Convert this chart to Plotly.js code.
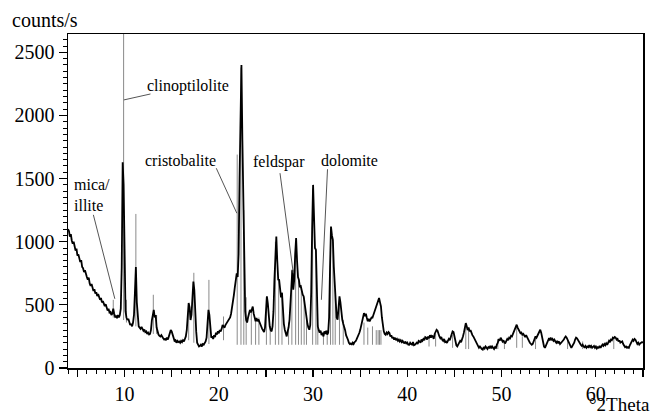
<!DOCTYPE html>
<html>
<head>
<meta charset="utf-8">
<script src="https://cdn.plot.ly/plotly-3.0.1.min.js"></script>
<style>html,body{margin:0;padding:0;background:#fff;}#chart{width:652px;height:416px;}</style>
</head>
<body>
<div id="chart"></div>
<script>
// Measured pattern: 2Theta scan from 4.0 to 65.0 deg, 0.1 deg steps (counts/s)
const scanStart = 4.0;
const scanStep = 0.1;
const counts = [
1100,1085,1040,1060,1010,985,1000,950,930,945,
890,900,860,840,855,800,790,760,775,730,
720,700,715,670,650,665,630,610,625,590,
600,570,585,555,540,555,520,530,500,490,
505,470,455,470,440,445,420,430,470,430,
405,410,395,420,400,420,470,800,1630,1450,
700,450,400,380,390,360,340,350,330,360,
420,600,800,520,370,330,320,310,325,300,
295,305,285,290,270,280,265,270,300,380,
440,460,400,420,320,280,265,255,250,260,
240,235,225,230,220,240,225,250,275,300,
290,260,230,215,220,200,215,205,210,200,
215,205,220,210,230,250,300,420,515,480,
380,420,560,685,620,420,290,200,180,170,
175,185,170,190,185,200,210,240,330,460,
420,280,240,250,230,260,245,280,265,290,
275,300,290,310,340,330,320,340,350,360,
375,385,400,430,470,520,580,640,700,750,
720,900,1500,2100,2400,1800,1330,800,450,380,
360,400,430,460,440,470,487,430,390,370,
395,370,385,360,340,329,310,300,285,320,
450,567,510,400,330,300,290,330,450,700,
950,1041,850,700,698,620,560,595,450,350,
303,270,250,290,320,382,550,700,778,620,
700,900,1030,850,720,698,640,646,600,580,
567,500,450,408,350,320,303,340,600,1100,
1450,1200,950,936,600,329,300,280,295,260,
280,250,290,270,295,265,280,400,800,1120,
1050,1015,800,620,450,400,382,470,567,520,
430,382,350,329,300,260,230,224,200,190,
195,184,200,190,205,210,225,240,255,277,
300,340,380,420,435,410,430,398,370,390,
369,385,400,398,420,440,461,480,510,540,
554,520,487,400,329,290,270,263,280,270,
285,277,250,260,235,245,224,240,220,230,
215,225,210,220,205,215,200,198,210,190,
200,185,184,200,190,185,205,180,184,195,
200,190,215,210,200,225,215,230,220,245,
240,225,250,235,260,240,255,250,230,270,
290,303,295,260,250,235,245,224,215,230,
205,210,198,215,230,220,250,270,290,285,
240,210,180,171,190,200,215,205,224,250,
280,320,356,330,300,320,290,300,270,260,
250,235,210,195,184,175,160,170,155,150,
145,165,155,170,160,150,165,160,175,155,
170,160,150,165,160,185,200,230,215,240,
225,210,220,200,198,215,230,220,240,235,
255,250,270,290,310,330,343,320,300,290,
275,280,263,270,255,245,260,240,230,215,
200,195,184,190,210,230,250,240,260,280,
300,303,280,240,200,170,160,175,190,210,
230,224,240,220,230,215,225,210,200,215,
195,210,190,198,205,215,225,240,250,240,
220,210,190,175,160,170,185,200,225,240,
235,220,205,190,184,175,185,170,165,175,
160,170,165,180,165,175,160,168,175,160,
170,155,165,160,175,160,170,185,175,190,
180,195,184,200,215,205,225,220,240,235,
245,240,225,230,210,220,200,205,210,190,
175,165,170,160,165,160,180,195,210,225,
215,230,224,205,190,200,185,195,198,205,
200
];

// Reference peak sticks (gray)
const stickPos  = [8.8,9.9,10.2,11.2,13.05,13.4,16.8,17.35,18.95,20.5,21.95,22.35,22.65,22.9,23.45,23.9,24.25,25.05,25.45,26.0,26.35,26.7,27.4,27.75,28.15,28.45,28.75,29.05,29.3,29.95,30.3,30.5,31.1,31.5,31.85,32.1,32.35,32.8,33.2,35.4,35.8,36.3,36.7,36.9,37.05,37.2,42.3,43.0,44.8,46.2,46.5,49.6,50.3,51.6,52.2,53.6,57.0,58.6,61.9];
const stickTop  = [540,2800,540,1220,580,420,480,754,698,408,1690,2380,1250,560,461,380,400,560,330,1000,700,600,360,770,1000,700,640,560,420,1420,930,340,280,300,1100,1000,620,560,380,360,320,330,300,300,300,300,250,270,260,330,300,230,210,320,250,230,220,210,230];
const stickBase = [400,380,360,330,270,270,220,200,190,220,184,184,184,184,184,184,184,184,184,184,184,184,184,184,184,184,184,184,184,184,184,184,184,184,184,184,184,184,184,184,184,184,184,184,184,184,170,170,160,150,150,150,150,160,160,150,150,150,150];

// Phase labels and their leader lines (data coords)
const labelText = ["clinoptilolite","cristobalite","feldspar","dolomite","mica/<br>illite"];
const labelX = [16.71,15.97,26.38,33.89,6.5];
const labelY = [2233,1640,1632,1644,1372];
const leaderX0 = [9.93,19.73,26.49,31.53,6.69];
const leaderY0 = [2123,1582,1543,1574,1213];
const leaderX1 = [12.75,21.91,27.9,30.88,8.97];
const leaderY1 = [2170,1226,752,540,548];

// Axis ticks
const xTickVals = [5,10,15,20,25,30,35,40,45,50,55,60,65];
const xTickText = ["","10","","20","","30","","40","","50","","60",""];
const yTickVals = [0,500,1000,1500,2000,2500];
const yTickText = ["0","500","1000","1500","2000","2500"];

const twoTheta = counts.map((_, i) => +(scanStart + i * scanStep).toFixed(2));

const sx = [], sy = [];
stickPos.forEach((p, i) => { sx.push(p, p, null); sy.push(stickBase[i], stickTop[i], null); });

const serif = "Times New Roman, Liberation Serif, DejaVu Serif, serif";

const traces = [
  {x: sx, y: sy, type: "scatter", mode: "lines", line: {color: "#8a8a8a", width: 1}, hoverinfo: "skip"},
  {x: twoTheta, y: counts, type: "scatter", mode: "lines", line: {color: "#000", width: 1.8}}
];

const shapes = labelText.map((t, i) => ({
  type: "line", xref: "x", yref: "y",
  x0: leaderX0[i], y0: leaderY0[i], x1: leaderX1[i], y1: leaderY1[i],
  line: {color: "#555", width: 1}
}));

const annotations = labelText.map((t, i) => ({
  x: labelX[i], y: labelY[i], xref: "x", yref: "y", text: t, showarrow: false,
  xanchor: "center", yanchor: "middle", align: "left",
  font: {family: serif, size: 16, color: "#000"}
}));
annotations.push({
  xref: "paper", yref: "paper", x: (10 - 68) / 575, y: (368 - 20) / 334,
  xanchor: "left", yanchor: "middle", text: "counts/s", showarrow: false,
  font: {family: serif, size: 20, color: "#000"}
});
annotations.push({
  xref: "paper", yref: "paper", x: (652 - 68) / 575, y: (368 - 417) / 334,
  xanchor: "right", yanchor: "bottom", text: "°2Theta", showarrow: false,
  font: {family: serif, size: 19, color: "#000"}
});

const layout = {
  width: 652, height: 416,
  margin: {l: 68, r: 9, t: 34, b: 48},
  paper_bgcolor: "#fff", plot_bgcolor: "#fff",
  showlegend: false,
  font: {family: serif, size: 20, color: "#000"},
  xaxis: {
    range: [4, 65], tickmode: "array", tickvals: xTickVals, ticktext: xTickText,
    ticks: "outside", ticklen: 7, tickwidth: 1.2, tickcolor: "#000",
    minor: {tickmode: "linear", tick0: 0, dtick: 1, ticks: "outside", ticklen: 4, tickwidth: 1, tickcolor: "#000"},
    showline: true, linecolor: "#000", linewidth: 1.5, mirror: true,
    showgrid: false, zeroline: false,
    tickfont: {family: serif, size: 20, color: "#000"}
  },
  yaxis: {
    range: [0, 2645], tickmode: "array", tickvals: yTickVals, ticktext: yTickText,
    ticks: "outside", ticklen: 8, tickwidth: 1.2, tickcolor: "#000",
    minor: {tickmode: "linear", tick0: 0, dtick: 50, ticks: "outside", ticklen: 4, tickwidth: 1, tickcolor: "#000"},
    showline: true, linecolor: "#000", linewidth: 1.5, mirror: true,
    showgrid: false, zeroline: false,
    tickfont: {family: serif, size: 20, color: "#000"}
  },
  shapes: shapes,
  annotations: annotations
};

Plotly.newPlot("chart", traces, layout, {displayModeBar: false, staticPlot: true});
</script>
</body>
</html>
